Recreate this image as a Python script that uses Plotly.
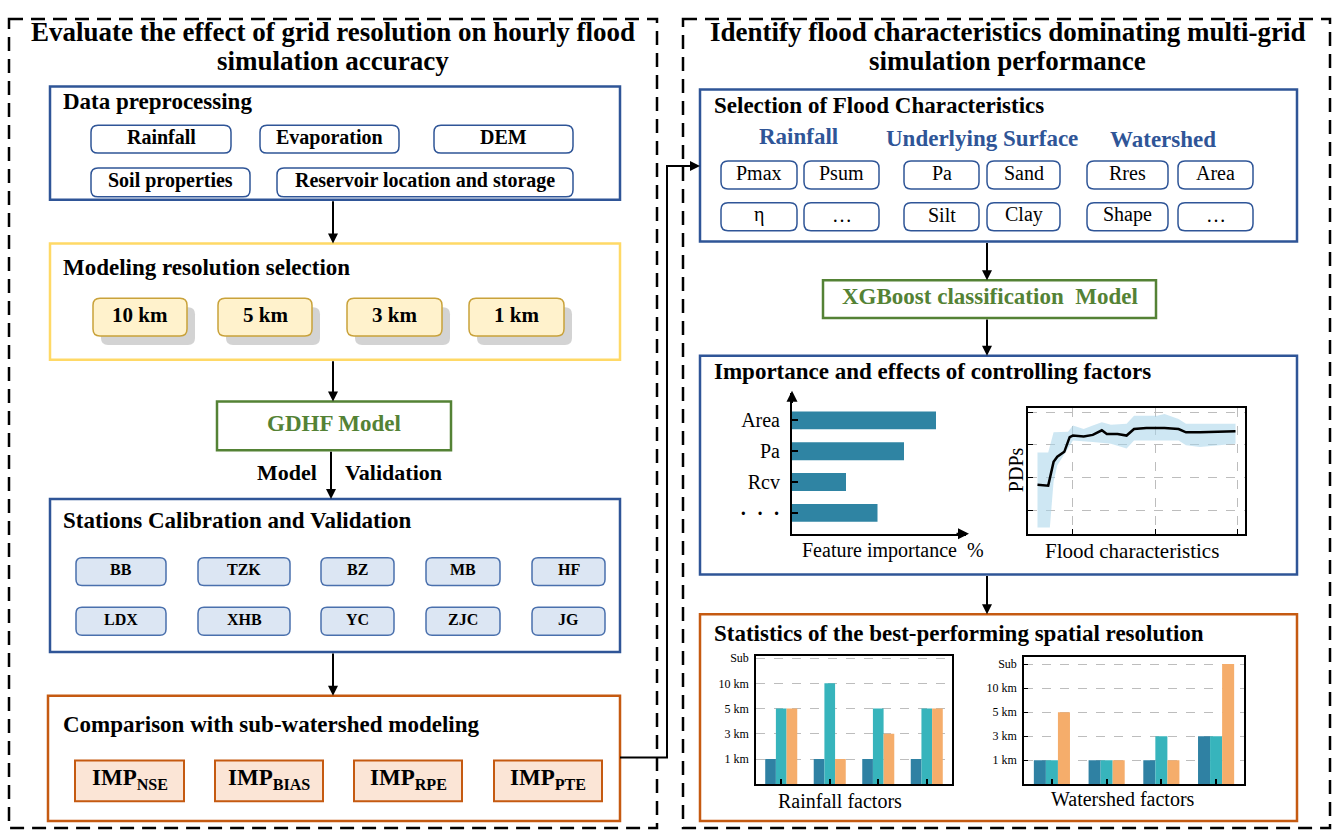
import plotly.graph_objects as go

W, H = 1335, 830
SERIF = "Liberation Serif, Times New Roman, serif"

# ---------------- data ----------------
left_title = ["Evaluate the effect of grid resolution on hourly flood", "simulation accuracy"]
right_title = ["Identify flood characteristics dominating multi-grid", "simulation performance"]
data_items = ["Rainfall", "Evaporation", "DEM", "Soil properties", "Reservoir location and storage"]
resolutions = ["10 km", "5 km", "3 km", "1 km"]
stations = ["BB", "TZK", "BZ", "MB", "HF", "LDX", "XHB", "YC", "ZJC", "JG"]
imp_metrics = ["NSE", "BIAS", "RPE", "PTE"]
feature_groups = ["Rainfall", "Underlying Surface", "Watershed"]
flood_features = ["Pmax", "Psum", "Pa", "Sand", "Rres", "Area",
                  "η", "…", "Silt", "Clay", "Shape", "…"]

importance_labels = ["Area", "Pa", "Rcv", "<b>·  ·  ·</b>"]
importance_values = [28.8, 22.4, 10.8, 17.1]

pdp_x = [0.57, 0.70, 0.765, 0.81, 0.895, 0.96, 1.00, 1.13, 1.24, 1.35, 1.41,
         1.54, 1.65, 1.74, 1.89, 2.11, 2.28, 2.37, 2.54, 2.97]
pdp_y = [1.78, 1.75, 2.48, 2.64, 2.79, 3.24, 3.29, 3.26, 3.31, 3.45, 3.34,
         3.34, 3.29, 3.49, 3.52, 3.52, 3.49, 3.39, 3.39, 3.42]
upper_x = [0.57, 0.70, 0.765, 0.94, 1.00, 1.13, 1.24, 1.35, 1.46, 1.65, 1.74,
           2.02, 2.11, 2.28, 2.37, 2.97]
upper_y = [2.77, 2.77, 3.39, 3.41, 3.60, 3.49, 3.60, 3.70, 3.62, 3.65, 3.90,
           3.90, 3.95, 3.80, 3.65, 3.65]
lower_x = [0.57, 0.72, 0.765, 0.81, 0.94, 1.00, 1.24, 1.46, 1.65, 1.74, 2.11,
           2.28, 2.37, 2.54, 2.97]
lower_y = [0.46, 0.46, 1.88, 2.38, 2.89, 3.14, 3.09, 3.04, 2.89, 3.14, 3.14,
           3.14, 2.99, 2.94, 3.04]

res_levels = ["1 km", "3 km", "5 km", "10 km", "Sub"]
rain_groups = ["R1", "R2", "R3", "R4"]
rain_s1 = ["1 km", "1 km", "1 km", "1 km"]
rain_s2 = ["5 km", "10 km", "5 km", "5 km"]
rain_s3 = ["5 km", "1 km", "3 km", "5 km"]
ws_groups = ["W1", "W2", "W3", "W4"]
ws_s1 = ["1 km", "1 km", "1 km", "3 km"]
ws_s2 = ["1 km", "1 km", "3 km", "3 km"]
ws_s3 = ["5 km", "1 km", "1 km", "Sub"]
series_colors = ["#2f81a3", "#37b4bc", "#f5ad6b"]

# ---------------- helpers ----------------
shapes, ann = [], []
TEXT_DY = -4
INBOX = 2


def box(x0, y0, x1, y1, color, width=2.5, fill="white", dash=None):
    shapes.append(dict(type="rect", xref="x", yref="y", x0=x0, y0=y0, x1=x1, y1=y1,
                       line=dict(color=color, width=width, dash=dash), fillcolor=fill, layer="below"))


def rbox(x0, y0, x1, y1, color, width=1.5, fill="white", r=7):
    p = (f"M {x0+r},{y0} L {x1-r},{y0} Q {x1},{y0} {x1},{y0+r} L {x1},{y1-r} "
         f"Q {x1},{y1} {x1-r},{y1} L {x0+r},{y1} Q {x0},{y1} {x0},{y1-r} "
         f"L {x0},{y0+r} Q {x0},{y0} {x0+r},{y0} Z")
    shapes.append(dict(type="path", xref="x", yref="y", path=p,
                       line=dict(color=color, width=width), fillcolor=fill, layer="below"))


def text(x, y, s, size, bold=False, color="black", xanchor="center", angle=0):
    if bold:
        s = f"<b>{s}</b>"
    ann.append(dict(x=x, y=y + TEXT_DY, xref="x", yref="y", text=s, showarrow=False,
                    font=dict(family=SERIF, size=size, color=color),
                    xanchor=xanchor, yanchor="middle", textangle=angle))


def arrow(x0, y0, x1, y1, width=2, size=1.0):
    ann.append(dict(x=x1, y=y1, ax=x0, ay=y0, xref="x", yref="y", axref="x", ayref="y",
                    text="", showarrow=True, arrowhead=2, arrowsize=size, arrowwidth=width,
                    arrowcolor="black", standoff=0))


def polyline(pts, width=2):
    p = "M " + " L ".join(f"{x},{y}" for x, y in pts)
    shapes.append(dict(type="path", xref="x", yref="y", path=p,
                       line=dict(color="black", width=width), layer="below"))


def dx(a, b):
    return [a / W, b / W]


def dy(top, bottom):
    return [1 - bottom / H, 1 - top / H]


BLUE = "#2f5597"
GREEN = "#548235"
ORANGE = "#c55a11"
YELLOW = "#ffd966"

# ---------------- outer dashed panels ----------------
box(9, 14, 657, 828, "black", 2.5, fill="rgba(0,0,0,0)", dash="14px,8px")
box(683, 14, 1330, 828, "black", 2.5, fill="rgba(0,0,0,0)", dash="14px,8px")
text(333, 31, left_title[0], 27, bold=True)
text(333, 60, left_title[1], 27, bold=True)
text(1007, 31, right_title[0], 27, bold=True)
text(1007, 60, right_title[1], 27, bold=True)

# ---------------- left panel ----------------
box(50, 82, 620, 196, BLUE)
text(61, 101, "Data preprocessing", 23, bold=True, xanchor="left")
data_slots = [(91, 121, 231, 149), (260, 121, 399, 149), (434, 121, 573, 149),
              (91, 164, 250, 193), (277, 164, 573, 193)]
for (x0, y0, x1, y1), s in zip(data_slots, data_items):
    rbox(x0, y0, x1, y1, BLUE, 1.5)
    text((x0 + x1) / 2, (y0 + y1) / 2 + INBOX, s, 20, bold=True)

box(50, 240, 620, 357, YELLOW)
text(61, 268, "Modeling resolution selection", 23, bold=True, xanchor="left")
km_slots = [(93, 187), (218, 312), (347, 442), (469, 564)]
for (x0, x1), s in zip(km_slots, resolutions):
    rbox(x0 + 8, 304, x1 + 8, 342, "#d3d3d3", 0, fill="#d3d3d3")
    rbox(x0, 295, x1, 333, "#c9a23a", 1.5, fill="#fff2cc")
    text((x0 + x1) / 2, 314 + INBOX, s, 21, bold=True)

box(217, 399, 451, 448, GREEN)
text(334, 425, "GDHF Model", 23, bold=True, color=GREEN)
text(319, 474, "Model", 22, bold=True, xanchor="right")
text(343, 474, "Validation", 22, bold=True, xanchor="left")

box(50, 497, 620, 651, BLUE)
text(61, 523, "Stations Calibration and Validation", 23, bold=True, xanchor="left")
st_cols = [(76, 166), (198, 290), (321, 394), (426, 500), (532, 605)]
st_rows = [(556, 584), (606, 634)]
for i, s in enumerate(stations):
    x0, x1 = st_cols[i % 5]
    y0, y1 = st_rows[i // 5]
    rbox(x0, y0, x1, y1, "#4a70ad", 1.5, fill="#dce6f3", r=6)
    text((x0 + x1) / 2, (y0 + y1) / 2 + INBOX, s, 16, bold=True)

box(48, 695, 620, 821, ORANGE)
text(61, 728, "Comparison with sub-watershed modeling", 23, bold=True, xanchor="left")
imp_cols = [(75, 184), (215, 323), (354, 462), (494, 602)]
for (x0, x1), s in zip(imp_cols, imp_metrics):
    box(x0, 760, x1, 801, ORANGE, 2, fill="#fbe5d6")
    text((x0 + x1) / 2, 783, f"IMP<sub>{s}</sub>", 23, bold=True)

arrow(333, 196, 333, 240)
arrow(333, 357, 333, 399)
arrow(331, 448, 331, 497)
arrow(333, 651, 333, 695)
polyline([(620, 757), (667, 757), (667, 162), (690, 162)])
arrow(667, 162, 700, 162)

# ---------------- right panel ----------------
box(700, 85, 1297, 238, BLUE)
text(712, 105, "Selection of Flood Characteristics", 23, bold=True, xanchor="left")
for (xc, yc), s in zip([(798, 136), (982, 138), (1163, 139)], feature_groups):
    text(xc, yc, s, 23, bold=True, color=BLUE)
fc_cols = [(721, 797), (804, 879), (904, 979), (987, 1060), (1087, 1168), (1178, 1253)]
fc_rows = [(157, 185), (199, 227)]
for i, s in enumerate(flood_features):
    x0, x1 = fc_cols[i % 6]
    y0, y1 = fc_rows[i // 6]
    rbox(x0, y0, x1, y1, BLUE, 1.5)
    text((x0 + x1) / 2, (y0 + y1) / 2 + INBOX, s, 20)

box(823, 277, 1156, 315, GREEN)
text(990, 297, "XGBoost classification  Model", 23, bold=True, color=GREEN)

box(700, 353, 1297, 573, BLUE)
text(712, 373, "Importance and effects of controlling factors", 23, bold=True, xanchor="left")
text(893, 553, "Feature importance\u2002%", 20)
text(1016, 472, "PDPs", 20, angle=-90)
text(1132, 553, "Flood characteristics", 21)
arrow(792, 402, 792, 388, width=2, size=1.1)
arrow(955, 532, 969, 532, width=2, size=1.1)

box(700, 613, 1297, 821, ORANGE)
text(712, 636, "Statistics of the best-performing spatial resolution", 23, bold=True, xanchor="left")
text(840, 805, "Rainfall factors", 20)
text(1123, 803, "Watershed factors", 20)

arrow(987, 238, 987, 277)
arrow(987, 315, 987, 353)
arrow(987, 573, 987, 613)

# ---------------- traces ----------------
fig = go.Figure()
fig.add_trace(go.Scatter(x=[None], y=[None], xaxis="x", yaxis="y", showlegend=False, hoverinfo="skip"))

# PDP band + line
fig.add_trace(go.Scatter(x=upper_x + lower_x[::-1], y=upper_y + lower_y[::-1], fill="toself",
                         fillcolor="rgba(166,212,234,0.55)", line=dict(width=0),
                         mode="lines", xaxis="x2", yaxis="y2", showlegend=False, hoverinfo="skip"))
fig.add_trace(go.Scatter(x=pdp_x, y=pdp_y, mode="lines", line=dict(color="black", width=2.5),
                         xaxis="x2", yaxis="y2", showlegend=False))

# feature importance
fig.add_trace(go.Bar(x=importance_values, y=importance_labels, orientation="h",
                     marker=dict(color="#2f84a3", line=dict(width=0)), width=0.58,
                     xaxis="x3", yaxis="y3", showlegend=False))

# grouped resolution bars
offsets = [-0.33, -0.11, 0.11]
for series, off, col in zip([rain_s1, rain_s2, rain_s3], offsets, series_colors):
    fig.add_trace(go.Bar(x=rain_groups, y=[res_levels.index(v) + 1 for v in series],
                         width=0.22, offset=off, marker=dict(color=col, line=dict(width=0)),
                         xaxis="x4", yaxis="y4", showlegend=False))
for series, off, col in zip([ws_s1, ws_s2, ws_s3], offsets, series_colors):
    fig.add_trace(go.Bar(x=ws_groups, y=[res_levels.index(v) + 1 for v in series],
                         width=0.22, offset=off, marker=dict(color=col, line=dict(width=0)),
                         xaxis="x5", yaxis="y5", showlegend=False))

frame = dict(showline=True, mirror=True, linecolor="black", linewidth=1.5, zeroline=False)
grid = dict(showgrid=True, gridcolor="#bdbdbd", griddash="dash", gridwidth=1)

fig.update_layout(
    width=W, height=H, margin=dict(l=0, r=0, t=0, b=0),
    paper_bgcolor="white", plot_bgcolor="rgba(0,0,0,0)",
    barmode="overlay", showlegend=False,
    font=dict(family=SERIF, color="black"),
    xaxis=dict(range=[0, W], domain=[0, 1], visible=False, fixedrange=True),
    yaxis=dict(range=[H, 0], domain=[0, 1], visible=False, fixedrange=True),
    xaxis2=dict(domain=dx(1028, 1245), anchor="y2", range=[0.455, 3.085], tickvals=[1, 2, 3],
                ticks="inside", ticklen=5, tickcolor="black", showticklabels=False, **frame, **grid),
    yaxis2=dict(domain=dy(405, 532), anchor="x2", range=[0.27, 4.15], tickvals=[1, 2, 3, 4],
                ticks="inside", ticklen=5, tickcolor="black", showticklabels=False, **frame, **grid),
    xaxis3=dict(domain=dx(792, 966), anchor="y3", range=[0, 34.8], showline=True, linecolor="black",
                linewidth=2, showgrid=False, zeroline=False, showticklabels=False, ticks=""),
    yaxis3=dict(domain=dy(390, 532), anchor="x3", type="category",
                categoryorder="array", categoryarray=importance_labels[::-1], range=[-0.68, 3.9],
                showline=True, linecolor="black", linewidth=2, ticks="inside", ticklen=6,
                tickwidth=2, tickcolor="black", showgrid=False, ticklabelstandoff=6,
                tickfont=dict(family=SERIF, size=20)),
    xaxis4=dict(domain=dx(756, 952), anchor="y4", type="category", range=[-0.52, 3.52],
                ticks="inside", ticklen=6, tickwidth=2, tickcolor="black", showticklabels=False,
                showgrid=False, **frame),
    yaxis4=dict(domain=dy(655, 784), anchor="x4", range=[0, 5.08], tickvals=[1, 2, 3, 4, 5],
                ticktext=res_levels, tickfont=dict(family=SERIF, size=12), ticks="",
                ticklabelstandoff=3, **frame, **grid),
    xaxis5=dict(domain=dx(1024, 1244), anchor="y5", type="category", range=[-0.51, 3.51],
                ticks="inside", ticklen=6, tickwidth=2, tickcolor="black", showticklabels=False,
                showgrid=False, **frame),
    yaxis5=dict(domain=dy(656, 784), anchor="x5", range=[0, 5.29], tickvals=[1, 2, 3, 4, 5],
                ticktext=res_levels, tickfont=dict(family=SERIF, size=12), ticks="inside",
                ticklen=4, tickcolor="black", ticklabelstandoff=3, **frame, **grid),
    shapes=shapes, annotations=ann,
)

fig.write_html("out.html", config={"displayModeBar": False},
               post_script="document.body.style.margin='0';")
